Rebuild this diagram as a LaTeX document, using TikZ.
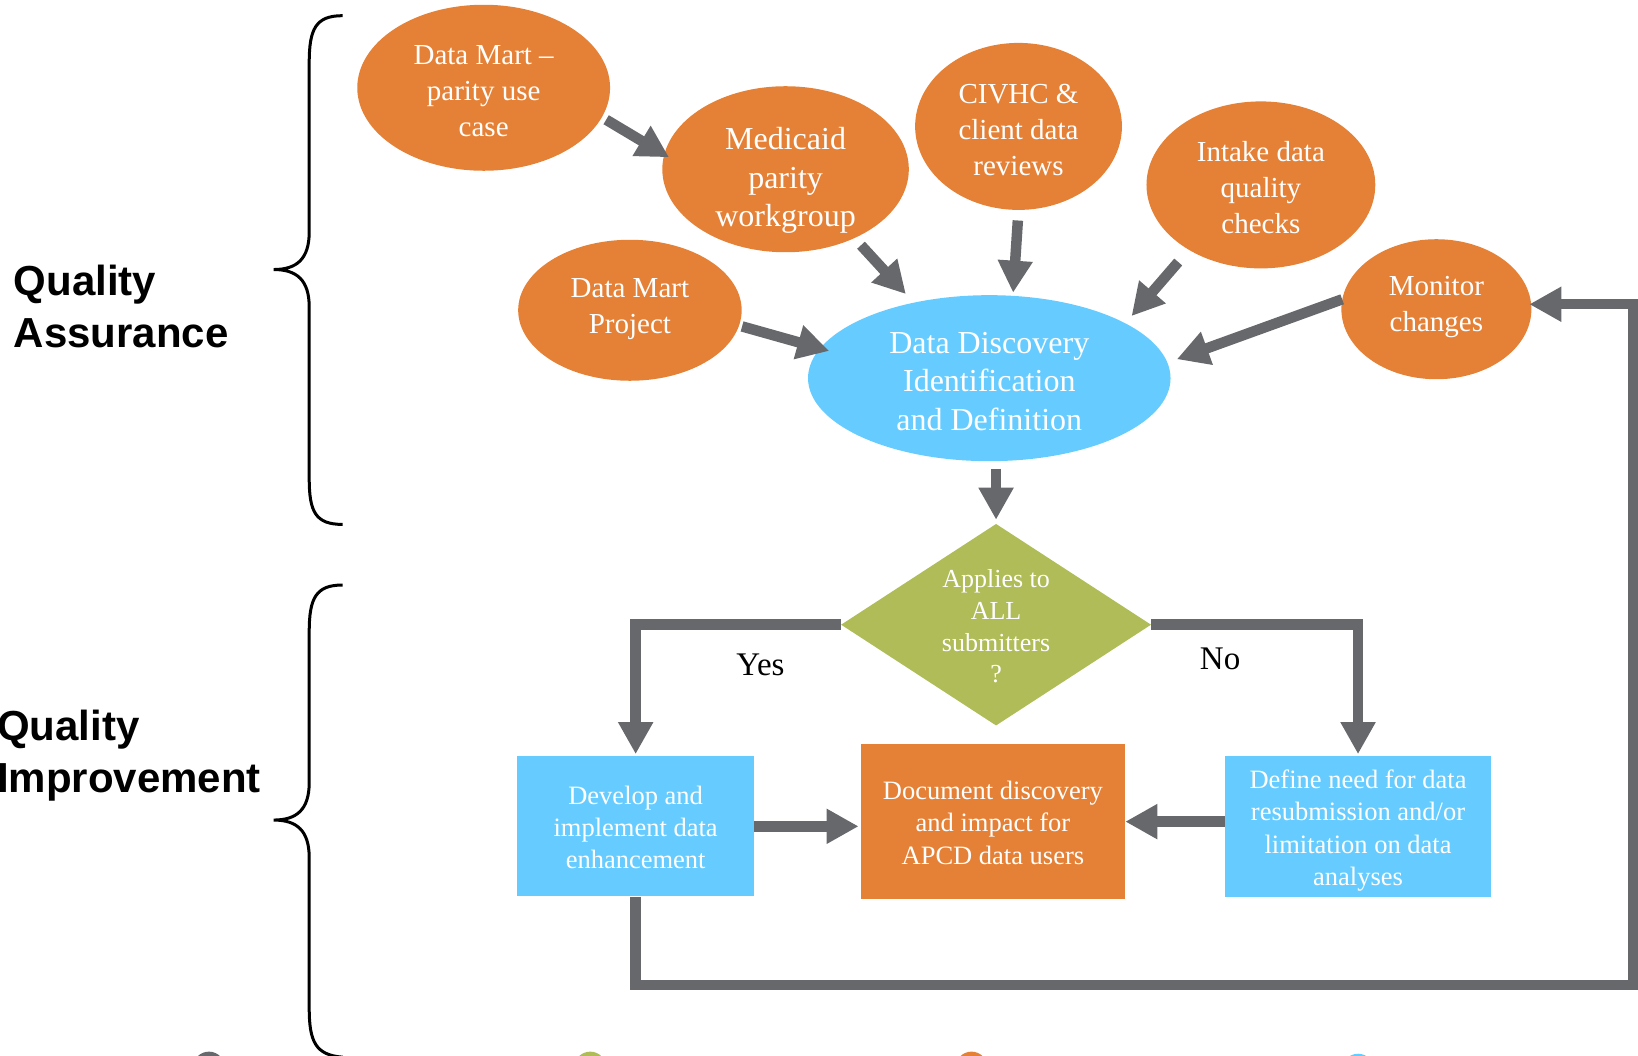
\documentclass[tikz,border=0pt]{standalone}
\usepackage{fontspec}
\setmainfont{Liberation Serif}
\setsansfont{Liberation Sans}
\usetikzlibrary{arrows.meta,shapes.geometric,calc}
\definecolor{qorange}{HTML}{E58136}
\definecolor{qblue}{HTML}{66CCFF}
\definecolor{qgreen}{HTML}{AFBC57}
\definecolor{qgray}{HTML}{67686C}
\begin{document}
\begin{tikzpicture}[x=1.0446pt,y=-1.0446pt,
  ell/.style={ellipse,fill=qorange,inner sep=0pt},
  lbl/.style={text=white,inner sep=0pt,align=center},
  fsmall/.style={font=\fontsize{29}{36}\selectfont},
  fbig/.style={font=\fontsize{32}{38.6}\selectfont},
  fbox/.style={font=\fontsize{26.5}{32.4}\selectfont},
  boxb/.style={rectangle,fill=qblue,text=white,inner sep=0pt,align=center,fbox},
  boxo/.style={rectangle,fill=qorange,text=white,inner sep=0pt,align=center,fbox},
  conn/.style={draw=qgray,line width=10.5pt,-{Triangle[length=32pt,width=33pt]}},
  bracepath/.style={draw=black,line width=3pt},
  sidelabel/.style={font=\sffamily\bfseries\fontsize{42}{52}\selectfont,align=left,anchor=west,inner sep=0pt},
  yn/.style={font=\fontsize{33}{38}\selectfont,inner sep=0pt},
  dot/.style={circle,inner sep=0pt,minimum size=32pt}
]
\useasboundingbox (0,0) rectangle (1568,1010);
\clip (0,0) rectangle (1568,1010);

% braces
\draw[bracepath] (328,15) .. controls (302,15) and (296,28) .. (296,60) -- (296,222)
  .. controls (296,248) and (284,258) .. (262,258)
  .. controls (284,258) and (296,268) .. (296,294) -- (296,458)
  .. controls (296,490) and (302,502) .. (328,502);
\draw[bracepath] (328,560) .. controls (302,560) and (296,573) .. (296,605) -- (296,749)
  .. controls (296,775) and (284,785) .. (262,785)
  .. controls (284,785) and (296,795) .. (296,821) -- (296,965)
  .. controls (296,997) and (302,1010) .. (328,1012);

\node[sidelabel] (qa) at (13,293) {Quality\\Assurance};
\node[sidelabel] (qi) at (-3,723.5) {Quality\\Improvement};

% ellipses
\node[ell,minimum width=252.8pt,minimum height=166pt] (dmpu) at (463,84) {};
\node[lbl,fsmall] (dmput) at (463,87) {Data Mart –\\parity use\\case};
\node[ell,minimum width=246.5pt,minimum height=166pt] (med) at (752,162) {};
\node[lbl,fbig] (medt) at (752,173) {Medicaid\\parity\\workgroup};
\node[ell,minimum width=206.8pt,minimum height=167pt] (civ) at (975,121) {};
\node[lbl,fsmall] (civt) at (975,124) {CIVHC \&\\client data\\reviews};
\node[ell,minimum width=228.8pt,minimum height=167pt] (intake) at (1207,177) {};
\node[lbl,fsmall] (intaket) at (1207,180) {Intake data\\quality\\checks};
\node[ell,minimum width=223.5pt,minimum height=141pt] (dmp) at (603,297) {};
\node[lbl,fsmall] (dmpt) at (603,296) {Data Mart\\Project};
\node[ell,minimum width=190pt,minimum height=140pt] (mon) at (1375,296) {};
\node[lbl,fsmall] (mont) at (1375,293.5) {Monitor\\changes};
\node[ell,fill=qblue,minimum width=362.5pt,minimum height=166pt] (dd) at (947,362) {};
\node[lbl,fbig] (ddt) at (947,365) {Data Discovery\\Identification\\and Definition};

% diamond
\node[diamond,fill=qgreen,inner sep=0pt,shape aspect=1.54,minimum width=310pt,minimum height=201.6pt] (dia) at (953.5,598) {};
\node[lbl,font=\fontsize{26}{31.8}\selectfont] (diat) at (953.5,599.5) {Applies to\\ALL\\submitters\\?};

% boxes
\node[boxb,minimum width=237pt,minimum height=140pt] (dev) at (608.5,791) {};
\node[lbl,fbox] (devt) at (608.5,792) {Develop and\\implement data\\enhancement};
\node[boxo,minimum width=264.3pt,minimum height=155.6pt] (doc) at (950.5,786.5) {};
\node[lbl,fbox] (doct) at (950.5,787.5) {Document discovery\\and impact for\\APCD data users};
\node[boxb,minimum width=265.3pt,minimum height=141pt] (def) at (1300,791.5) {};
\node[lbl,fbox] (deft) at (1300,795) {Define need for data\\resubmission and/or\\limitation on data\\analyses};

\node[yn] (yes) at (728,636) {Yes};
\node[yn] (no) at (1168,631) {No};

% connectors
\draw[conn,shorten <=4.8pt,shorten >=-5.7pt] (dmpu.-14.8) -- (med.173.8);
\draw[conn,shorten <=9.5pt,shorten >=11.5pt] (med.-45.4) -- (dd.135.7);
\draw[conn,shorten <=10.4pt,shorten >=3pt] (civ.-90) -- (dd.74.3);
\draw[conn,shorten <=16pt,shorten >=9.4pt] (intake.-138.3) -- (dd.22.6);
\draw[conn,shorten <=3pt,shorten >=-9.7pt] (dmp.-8.5) -- (dd.170.8);
\draw[conn,shorten >=9.9pt] (mon.174.4) -- (dd.5.4);
\draw[conn,shorten <=7.3pt,shorten >=4pt] (dia.north |- dd.south) -- (dia.north);
\draw[conn,shorten >=2pt] (dia.west) -| (dev.north);
\draw[conn,shorten >=2pt] (dia.east) -| (def.north);
\draw[conn,shorten >=2pt] (dev.east) -- (dev.east -| doc.west);
\draw[conn] (doc.east -| def.west) -- (doc.east);
\coordinate (lb) at (1563,943);
\draw[conn,shorten >=-2pt] (dev.south) |- (lb) |- (mon.3);

% partial dots at bottom edge
\node[dot,fill=qgray] (d1) at (200,1022) {};
\node[dot,fill=qgreen] (d2) at (565,1022) {};
\node[dot,fill=qorange] (d3) at (930,1022) {};
\node[dot,fill=qblue] (d4) at (1300,1024) {};
\end{tikzpicture}
\end{document}
